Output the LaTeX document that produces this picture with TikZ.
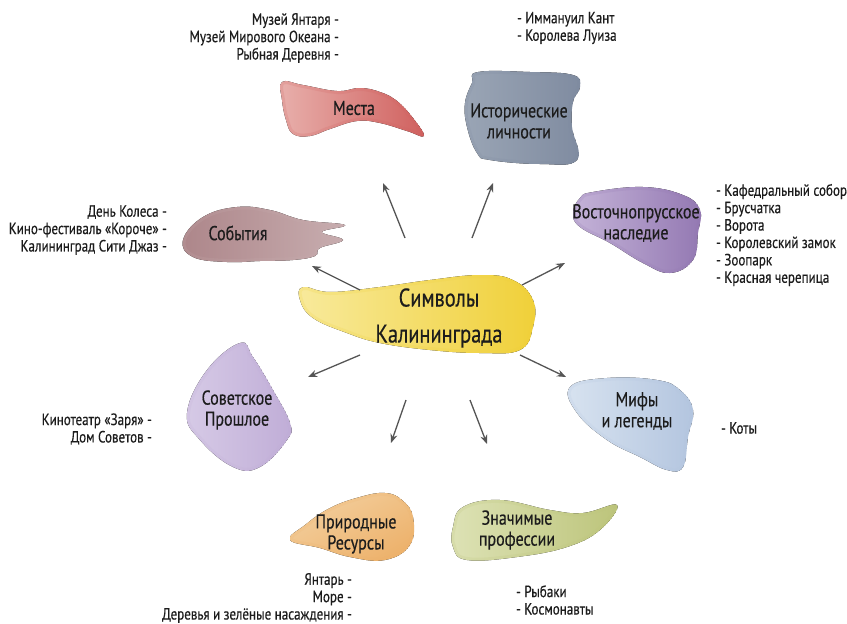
\documentclass[tikz,border=0pt]{standalone}
\usepackage{fontspec}
\setmainfont{PT Sans}[FakeStretch=0.8,FakeBold=0.4]
\usetikzlibrary{arrows.meta}
\definecolor{txt}{HTML}{1C1C1C}
\definecolor{arrc}{HTML}{555555}
\definecolor{mL}{HTML}{E8B0AC}\definecolor{mD}{HTML}{D0605E}
\definecolor{hL}{HTML}{9AA5B5}\definecolor{hD}{HTML}{7F8BA0}
\definecolor{vL}{HTML}{C4B3D8}\definecolor{vD}{HTML}{9378B2}
\definecolor{sL}{HTML}{AD868A}\definecolor{sD}{HTML}{C8AEB0}
\definecolor{cL}{HTML}{F8EA9C}\definecolor{cD}{HTML}{F0D038}
\definecolor{pL}{HTML}{D6CAE6}\definecolor{pD}{HTML}{C0ADD7}
\definecolor{yL}{HTML}{D8E3F0}\definecolor{yD}{HTML}{B3C5DF}
\definecolor{rL}{HTML}{F3CF9E}\definecolor{rD}{HTML}{EDB26C}
\definecolor{zL}{HTML}{DDE2B5}\definecolor{zD}{HTML}{BCC47A}
\newcommand{\wcblob}[4]{%
  \begin{scope}
    \path[clip] plot[smooth cycle, tension=0.7] coordinates {#1};
    \fill[left color=#2, right color=#3, shading angle=#4] plot[smooth cycle, tension=0.7] coordinates {#1};
    \draw[#3, line width=6pt, opacity=0.18] plot[smooth cycle, tension=0.7] coordinates {#1};
  \end{scope}}
\tikzset{
  lbl/.style={text=txt, align=center, inner sep=0pt, font=\fontsize{20}{21}\selectfont},
  biglbl/.style={text=txt, align=center, inner sep=0pt, font=\fontsize{25.5}{36}\selectfont},
  lstR/.style={text=txt, align=right, anchor=east, inner sep=0pt, font=\fontsize{16.3}{17.4}\selectfont},
  lstL/.style={text=txt, align=left, anchor=west, inner sep=0pt, font=\fontsize{16.3}{17.4}\selectfont},
  arr/.style={draw=arrc, line width=1.3pt, -{Stealth[length=9pt,width=7pt]}}
}
\begin{document}
\begin{tikzpicture}[x=1pt,y=-1pt]
\useasboundingbox (0,0) rectangle (847,624);
\fill[white] (0,0) rectangle (847,624);

% blobs
\wcblob{(282,82) (303,85) (337,91) (360,88) (380,92) (397,101) (413,118) (424,136) (407,131) (380,123) (357,121) (330,129) (310,136) (293,134) (286,120) (282,100)}{mL}{mD}{90}
\wcblob{(478,72) (530,72) (573,75) (580,87) (573,102) (572,127) (577,160) (540,164) (490,160) (477,153) (467,127) (465,103) (472,83)}{hL}{hD}{90}
\wcblob{(593,192) (643,187) (683,195) (700,210) (698,233) (693,260) (670,273) (643,263) (610,243) (580,227) (573,213) (580,198)}{vL}{vD}{90}
\wcblob{(183,240) (203,217) (237,207) (270,210) (303,220) (345,225) (322,232) (343,240) (320,248) (315,256) (293,260) (260,261) (227,262) (193,257)}{sL}{sD}{90}
\wcblob{(303,287) (330,292) (380,287) (430,280) (480,275) (513,280) (533,300) (533,327) (520,350) (480,353) (430,350) (380,343) (347,333) (313,318) (300,300)}{cL}{cD}{90}
\wcblob{(240,343) (253,357) (273,390) (290,423) (287,440) (260,467) (233,467) (200,440) (187,413) (207,370)}{pL}{pD}{90}
\wcblob{(570,387) (607,378) (657,380) (680,390) (693,410) (688,437) (683,467) (667,470) (640,457) (607,440) (577,413)}{yL}{yD}{90}
\wcblob{(290,540) (305,525) (330,508) (360,497) (385,493) (402,500) (413,517) (410,545) (385,560) (350,557) (320,548)}{rL}{rD}{30}
\wcblob{(463,507) (500,500) (550,510) (583,513) (617,505) (600,530) (567,547) (517,557) (467,560) (453,547) (453,527)}{zL}{zD}{90}

% blob labels
\node[lbl] (mesta) at (354,108) {Места};
\node[lbl] (hist) at (519,121) {Исторические\\личности};
\node[lbl] (vost) at (636,223) {Восточнопрусское\\наследие};
\node[lbl] (sob) at (238,233) {События};
\node[biglbl] (center) at (439,318) {Символы\\Калининграда};
\node[lbl] (sov) at (237,410) {Советское\\Прошлое};
\node[lbl] (mify) at (637,411) {Мифы\\и легенды};
\node[lbl] (prir) at (356,534) {Природные\\Ресурсы};
\node[lbl] (znach) at (517,530) {Значимые\\профессии};

% lists
\node[lstR] (lmesta) at (339,38) {Музей Янтаря -\\Музей Мирового Океана -\\Рыбная Деревня -};
\node[lstL] (lhist) at (517,28) {- Иммануил Кант\\- Королева Луиза};
\node[lstL] (lvost) at (716,235) {- Кафедральный собор\\- Брусчатка\\- Ворота\\- Королевский замок\\- Зоопарк\\- Красная черепица};
\node[lstR] (lsob) at (167,230) {День Колеса -\\Кино-фестиваль «Короче» -\\Калининград Сити Джаз -};
\node[lstR] (lsov) at (152,429) {Кинотеатр «Заря» -\\Дом Советов -};
\node[lstL] (lmify) at (721,428) {- Коты};
\node[lstR] (lprir) at (352,598) {Янтарь -\\Море -\\Деревья и зелёные насаждения -};
\node[lstL] (lznach) at (516,600) {- Рыбаки\\- Космонавты};

% arrows
\coordinate (s1) at (405,238); \coordinate (e1) at (383,183);
\coordinate (s2) at (472,238); \coordinate (e2) at (493,183);
\coordinate (s3) at (522,285); \coordinate (e3) at (565,263);
\coordinate (s4) at (360,290); \coordinate (e4) at (312,266);
\coordinate (s5) at (360,355); \coordinate (e5) at (308,377);
\coordinate (s6) at (520,355); \coordinate (e6) at (566,377);
\coordinate (s7) at (406,400); \coordinate (e7) at (391,443);
\coordinate (s8) at (470,400); \coordinate (e8) at (487,444);
\foreach \i in {1,...,8} { \draw[arr] (s\i) -- (e\i); }
\end{tikzpicture}
\end{document}
